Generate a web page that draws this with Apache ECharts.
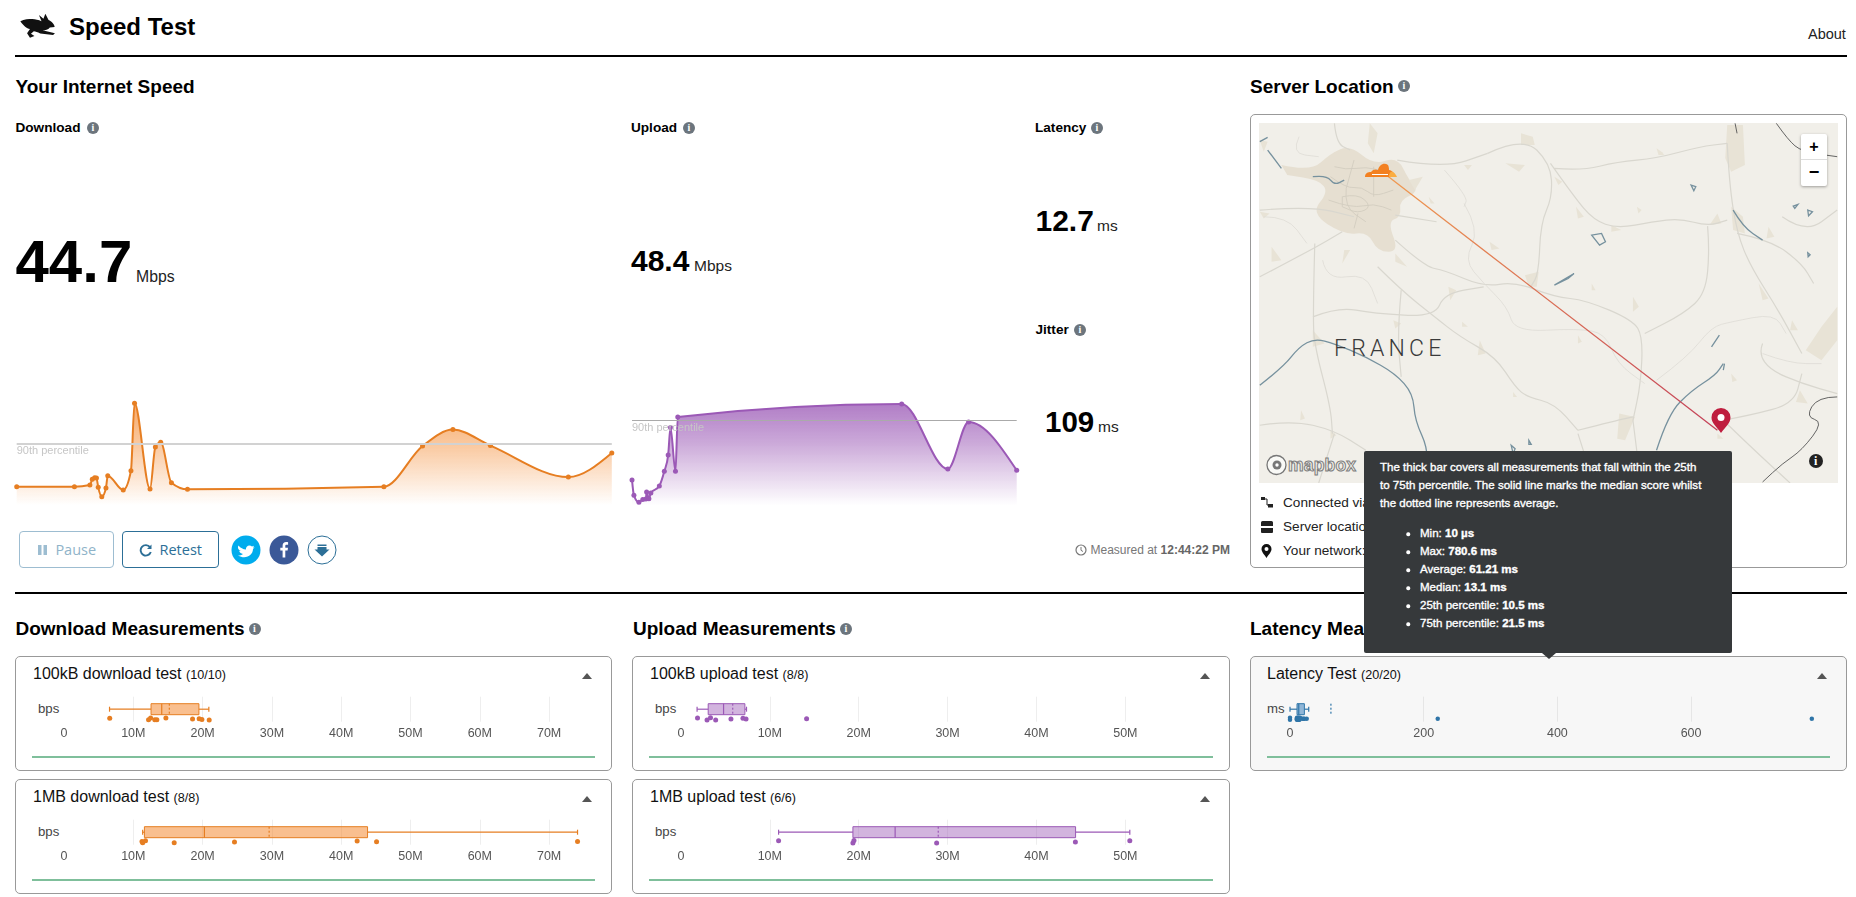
<!DOCTYPE html>
<html><head><meta charset="utf-8"><title>Speed Test</title>
<script src="https://cdn.jsdelivr.net/npm/echarts@6/dist/echarts.min.js"></script>
<style>
html,body{margin:0;padding:0;width:1856px;height:897px;overflow:hidden;background:#fff;font-family:"Liberation Sans",Arial,sans-serif;color:#000}
.t{position:absolute;white-space:nowrap;line-height:1;transform:translateY(-50%)}
.h{font-size:19px;font-weight:700}
.s{font-size:13.6px;font-weight:700}
.rule{position:absolute;left:15px;width:1832px;height:2px;background:#000}
.i{position:absolute;width:12px;height:12px;border-radius:50%;background:#6c757d;color:#fff;font:700 10px/12px "Liberation Serif",serif;text-align:center;transform:translate(-50%,-50%)}
.panel{position:absolute;box-sizing:border-box;border:1px solid #999;border-radius:5px;background:#fff}
.green{position:absolute;height:2px;background:#7fbf9b}
.caret{position:absolute;width:0;height:0;border-left:5px solid transparent;border-right:5px solid transparent;border-bottom:6px solid #555;transform:translate(-50%,-50%)}
.ttl{font-size:16px;color:#111}.ttl small{font-size:12.6px}
.u{font-size:13.2px;color:#444}
.btn{position:absolute;box-sizing:border-box;top:531px;height:37px;border-radius:4px;border:1px solid;font:14.5px/35px "Open Sans",sans-serif;text-align:center}
.cir{position:absolute;top:550px;width:29px;height:29px;border-radius:50%;transform:translate(-50%,-50%)}
.m{font-size:13.6px;color:#222}
#chart{position:absolute;left:0;top:0;width:1856px;height:897px}
#tip{position:absolute;left:1364px;top:451px;width:368px;height:202px;background:#36393b;border-radius:2px;color:#fff;z-index:5}
#tip:after{content:"";position:absolute;left:178px;top:202px;border-left:7px solid transparent;border-right:7px solid transparent;border-top:6px solid #36393b}
#tip div{position:absolute;white-space:nowrap;font-size:11.55px;line-height:1;transform:translateY(-50%);-webkit-text-stroke:.35px #fff}
#tip i{position:absolute;width:3.5px;height:3.5px;border-radius:50%;background:#fff;transform:translate(-50%,-50%)}
</style></head><body>

<svg style="position:absolute;left:19px;top:12.500px" width="37" height="25" viewBox="55 36 113 78"><path d="M58 62C70 55 85 55 95 55 105 55 115 58 124 62L116 42 130 54 136 38 146 58C155 62 165 72 165 80L150 81C145 88 135 90 127 90L166 99 160 105 120 100C112 96 105 93 100 93L91 101 102 108 88 113 79 99 88 86C78 85 66 74 58 62Z" fill="#111"/></svg>
<div class="t" style="left:69px;top:27px;font-size:24px;font-weight:700">Speed Test</div>
<div class="t" style="left:1808px;top:34px;font-size:14.5px;color:#222">About</div>
<div class="rule" style="top:55px"></div>

<div class="t h" style="left:15.500px;top:86px">Your Internet Speed</div>
<div class="t s" style="left:15.500px;top:128px">Download</div><span class="i" style="left:93px;top:128px">i</span>
<div class="t" style="left:15.500px;top:262px;font-size:60px;font-weight:700">44.7</div>
<div class="t" style="left:136px;top:276.500px;font-size:15.800px;color:#222">Mbps</div>
<div class="t s" style="left:631px;top:128px">Upload</div><span class="i" style="left:689px;top:128px">i</span>
<div class="t" style="left:631px;top:260.500px;font-size:30px;font-weight:700">48.4</div>
<div class="t" style="left:694px;top:265.500px;font-size:15.500px;color:#222">Mbps</div>
<div class="t s" style="left:1035px;top:128px">Latency</div><span class="i" style="left:1097px;top:128px">i</span>
<div class="t" style="left:1035.500px;top:220.500px;font-size:30px;font-weight:700">12.7</div>
<div class="t" style="left:1097px;top:226px;font-size:15.500px;color:#222">ms</div>
<div class="t s" style="left:1035.500px;top:330px">Jitter</div><span class="i" style="left:1080px;top:329.500px">i</span>
<div class="t" style="left:1045px;top:421.500px;font-size:29.500px;font-weight:700">109</div>
<div class="t" style="left:1098px;top:427px;font-size:15.500px;color:#222">ms</div>

<div class="btn" style="left:19px;width:95px;color:#8fb3c9;border-color:#9dbdd1">
<svg width="11" height="12" viewBox="0 0 11 12" style="vertical-align:-1px"><path d="M1 1h3.500v10H1zM6.500 1H10v10H6.500z" fill="#9dbdd1"/></svg>&nbsp; Pause</div>
<div class="btn" style="left:122px;width:97px;color:#2c6f97;border-color:#2c6f97">
<svg width="13" height="13" viewBox="0 0 13 13" style="vertical-align:-2px"><path d="M11 3.200A5.200 5.200 0 1 0 11.800 8" fill="none" stroke="#2c6f97" stroke-width="1.900"/><path d="M12.500 .5V5H8z" fill="#2c6f97"/></svg>&nbsp; Retest</div>
<div class="cir" style="left:245.700px;background:#00aced"><svg width="29" height="29" viewBox="0 0 29 29"><path d="M7 10c2 2.500 4.500 3.800 7.500 4-.6-3.500 3.500-5.500 6-3l2-.7-1 2 1.700-.5-1.700 1.700c0 6-7 11-15 6.500 2 0 3.500-.5 5-1.600-2 0-3.200-1-3.800-2.800h1.800c-2-.6-3-2-3.100-3.800l1.800.5C6.500 13 6 11.500 7 10z" fill="#fff"/></svg></div>
<div class="cir" style="left:284px;background:#3b5998"><svg width="29" height="29" viewBox="0 0 29 29"><path d="M15.800 22v-7h2.300l.4-2.800h-2.700v-1.700c0-.8.300-1.300 1.400-1.300h1.400V6.700c-.3 0-1.100-.1-2-.1-2.100 0-3.500 1.300-3.500 3.600v2H10.800V15h2.300v7z" fill="#fff"/></svg></div>
<div class="cir" style="left:322px;background:#fff;box-sizing:border-box;border:1px solid #2c6f97"><svg width="27" height="27" viewBox="0 0 27 27"><path d="M9 8h9v1.500H9zM9 10.500h9V13h3l-7.500 7L6 13h3z" fill="#2c6f97"/></svg></div>
<svg style="position:absolute;left:1075px;top:543.500px" width="12" height="12" viewBox="0 0 12 12"><circle cx="6" cy="6" r="5" fill="none" stroke="#777" stroke-width="1.200"/><path d="M6 3v3.300l2 1.200" fill="none" stroke="#777"/></svg>
<div class="t" style="left:1090.500px;top:549.500px;font-size:12px;color:#777">Measured at <b style="color:#666">12:44:22 PM</b></div>

<div class="t h" style="left:1250px;top:86px">Server Location</div><span class="i" style="left:1404px;top:86px">i</span>
<div class="panel" style="left:1250px;top:114px;width:597px;height:454px"></div>
<svg id="map" style="position:absolute;left:1259px;top:123px" width="579" height="360" viewBox="48 69 1474 1079" preserveAspectRatio="none">
<style>.r{fill:none;stroke:#d9d7cf;stroke-width:1.200;vector-effect:non-scaling-stroke;stroke-linejoin:round}.b{fill:none;stroke:#dedcd5;stroke-width:.8;vector-effect:non-scaling-stroke}.w{fill:none;stroke:#76919e;stroke-width:1.300;vector-effect:non-scaling-stroke}.k{fill:none;stroke:#555;stroke-width:.9;vector-effect:non-scaling-stroke}.p{fill:#e8e3d6}.pc{fill:#e6dfd1}.n{fill:none;stroke:#d3cdbf;stroke-width:.9;vector-effect:non-scaling-stroke}</style>
<rect x="48" y="69" width="1474" height="1079" fill="#f1efe9"/>
<path class="pc sm" d="M105 195L180 215 230 160 280 135 340 195 400 170 430 240 455 275 405 300 410 350 375 365 405 455 350 455 325 395 265 405 180 340 225 275 200 240 120 225Z"/>
<path class="p" d="M330 70l20 30-10 60-15-30zM715 100l30 10 5 25-35 0zM1240 75l40 0 5 120-35 20-15-40zM1250 320l30 30 5 50-30-10zM1060 145l18 15-10 5zM675 190l50 5-15 20zM800 230l20 15-10 10zM855 320l20 30-15 5zM945 375l25 15-25 5zM725 525l35-10-5 45-20 0zM530 560l20 10-15 30zM610 720l15 40-20 5zM1000 590l15 30-15 15zM1320 550l25 45-15 5zM1425 870l20 40-30-5zM965 940l40 10-25 70-20-5zM1345 380l15 30-20 5zM80 440l25 40-25 5zM635 425l25 20-20 5zM395 460l30 40-30-15zM185 690l30 40-30 10zM390 660l20 10-15 15zM1215 340l10 30-30 5zM1440 750l40-70 40-60 0 100-40 60zM50 120l20 5-10 30zM50 335l25 5-15 15zM265 450l15 0-20 40zM430 240l35-10-20 40zM480 290l15 20-10 0zM1060 145l20 20-15 0zM1010 320l12 10-8 10zM570 195l20 0-10 15zM695 875l10 15-10 0zM860 705l10 20-10 5zM155 930l10 25-12 5zM230 990l15 15-15 10zM1215 1000l15 15-15 0zM1250 820l15 20-12 5zM1405 660l15 30-20 0zM565 665l15 15-15 0zM895 550l10 20-10 0z"/>
<path class="n sm" d="M230 230L270 265 310 260 340 290 390 270M270 265L265 320 320 365M225 300L285 325 340 310 385 330M340 200L340 290M290 180L270 265M300 340L290 385M240 200L270 210 320 200 370 215M260 290L300 280 335 320 300 340 260 320Z"/>
<path class="r sm" d="M50 330L180 318 290 350M395 345L500 365M395 420L470 500 520 510 620 560 700 545 800 590 880 600 1000 660 1025 710 1020 850 1000 960"/>
<path class="r sm" d="M800 205L870 212 960 185 1060 175 1170 140 1240 130M630 160L720 110 790 190 795 290 765 370 760 520 740 560M790 190L850 290 900 360 960 385 1050 365 1120 355 1190 378 1240 360"/>
<path class="r sm" d="M1190 378L1195 450 1185 580 1130 640 1030 700M1240 130L1245 250 1265 400 1300 500 1370 630 1430 760M1265 400L1350 420 1430 490 1460 550M50 530L180 450 260 395"/>
<path class="r sm" d="M190 430L185 650 190 740 230 920 235 1000M350 500L410 570 495 650 560 710 650 770 700 860 730 890 800 910 860 990M185 650L250 620 340 640 495 650 520 580 620 560"/>
<path class="r sm" d="M410 570L400 700 410 830M50 975L130 960 240 990 320 1050M1230 960L1300 945 1410 910 1430 820M860 990L960 960 1000 950M400 180L520 205 630 160M240 70L245 130 280 150"/>
<path class="r sm" d="M1330 730L1320 760 1350 810 1430 850 1520 880M1380 350L1440 400 1520 330M900 1148L860 1000M1000 960L1020 1148M1230 960L1300 1040 1400 1148M200 1148L240 1000"/>
<path class="b sm" d="M570 310L610 390 570 480 620 550 680 620 700 695 860 685 930 700 960 790 1030 850M1060 840L1140 770 1200 680 1250 665 1360 640 1390 700M210 480L220 540 320 520 350 610M520 210L580 290 570 320M150 110L130 160 200 170M60 350L120 350 170 430M1330 760L1400 790 1480 790"/>
<path class="w sm" d="M50 855L110 800 150 740 190 715 240 730 320 770 395 820 440 880 445 960 480 1050 470 1148M1060 1050L1090 940 1150 870 1210 825 1230 790M185 230L220 225 240 255 265 240M70 150L105 205M50 125L70 112M1255 330L1280 380 1330 420"/>
<path class="w" d="M895 405l25-5 10 25-15 10zM800 555l50-35-15 15zM1148 255l12 5-5 12zM1408 318l12-5-8 12zM1445 330l12 5-10 12zM1445 458l6 6-5 6zM690 1035l10 10-5 15zM735 1020l6 12-6 0zM1200 740l20-35M1230 810l3-20"/>
<path class="k sm" d="M1365 70L1395 120 1430 155 1520 170M1260 70L1265 100M1520 890L1470 890 1440 950 1485 965 1430 1050 1380 1090 1330 1145"/>
<line x1="372" y1="225" x2="1215" y2="990" stroke="url(#lg)" stroke-width="1.300" vector-effect="non-scaling-stroke"/>
<defs><linearGradient id="lg" gradientUnits="userSpaceOnUse" x1="372" y1="225" x2="1215" y2="990"><stop offset="0" stop-color="#f09a50"/><stop offset="1" stop-color="#c34058"/></linearGradient></defs>
</svg>
<div class="t" style="left:1334px;top:348px;font:300 23px/1 Roboto,sans-serif;letter-spacing:4.200px;color:#3a3a3a">FRANCE</div>
<svg style="position:absolute;left:1365px;top:162px" width="32" height="16" viewBox="0 0 32 16"><path d="M0 15C0 11 3 10 6 10 8 7 11 7 13 8 14 3 19 0 23 3 24 5 24 7 24 8 27 8 30 12 31 15Z" fill="#f38020"/><path d="M24 15C24 12 25 9 28 10 30 11 31 13 32 15Z" fill="#fbad41"/><path d="M7 12.500H23" stroke="#fff" stroke-width="1"/></svg>
<svg style="position:absolute;left:1711px;top:408px" width="20" height="25" viewBox="0 0 20 25"><path d="M10 25C5 18 .5 15 .5 9.500A9.500 9.500 0 0 1 19.500 9.500C19.500 15 15 18 10 25Z" fill="#bf1e3f"/><circle cx="10" cy="9.500" r="3.500" fill="#fff"/></svg>
<div style="position:absolute;left:1801px;top:134px;width:26px;height:52px;background:#fff;border-radius:2px;box-shadow:0 1px 3px rgba(0,0,0,.35)">
<div style="height:26px;border-bottom:1px solid #ddd;box-sizing:border-box;font:700 16px/25px 'Liberation Sans';text-align:center">+</div><div style="height:26px;font:700 18px/24px 'Liberation Sans';text-align:center">−</div></div>
<svg style="position:absolute;left:1266px;top:454px" width="21" height="22" viewBox="0 0 21 22"><circle cx="10.500" cy="11" r="9.500" fill="#fff" fill-opacity=".6" stroke="#777" stroke-width="1.300"/><circle cx="11" cy="11" r="4.500" fill="#777"/><circle cx="11" cy="11" r="1.700" fill="#fff"/></svg>
<div class="t" style="left:1288px;top:466px;font-size:17.500px;font-weight:700;color:#f1efe9;-webkit-text-stroke:1px #7d7d7d;letter-spacing:.2px">mapbox</div>
<span class="i" style="left:1815.600px;top:461px;width:14px;height:14px;background:#222;font-size:12px;line-height:14px">i</span>

<svg style="position:absolute;left:1260px;top:496px" width="14" height="14" viewBox="0 0 14 14"><path d="M1 1h4v3H1zM8 8h5v3.500H8z" fill="#222"/><path d="M4 3h3v6h2" fill="none" stroke="#222"/></svg>
<div class="t m" style="left:1283px;top:503px">Connected via</div>
<svg style="position:absolute;left:1260px;top:520px" width="14" height="14" viewBox="0 0 14 14"><path d="M1 2.500a1.500 1.500 0 0 1 1.500-1.500h9A1.500 1.500 0 0 1 13 2.500V6H1zM1 8h12v4a1 1 0 0 1-1 1H2a1 1 0 0 1-1-1z" fill="#222"/></svg>
<div class="t m" style="left:1283px;top:527px">Server location</div>
<svg style="position:absolute;left:1261px;top:544px" width="11" height="14" viewBox="0 0 11 14"><path d="M5.500 14C3 10 .5 8 .5 5a5 5 0 0 1 10 0c0 3-2.500 5-5 9z" fill="#111"/><circle cx="5.500" cy="5" r="2" fill="#fff"/></svg>
<div class="t m" style="left:1283px;top:551px">Your network:</div>

<div class="rule" style="top:592px"></div>
<div class="t h" style="left:15.500px;top:628px">Download Measurements</div><span class="i" style="left:254.500px;top:629px">i</span>
<div class="t h" style="left:633px;top:628px">Upload Measurements</div><span class="i" style="left:846px;top:629px">i</span>
<div class="t h" style="left:1250px;top:628px">Latency Measurements</div>

<div class="panel" style="left:15px;top:656px;width:597px;height:115px"></div>
<div class="panel" style="left:15px;top:779px;width:597px;height:115px"></div>
<div class="panel" style="left:632px;top:656px;width:598px;height:115px"></div>
<div class="panel" style="left:632px;top:779px;width:598px;height:115px"></div>
<div class="panel" style="left:1250px;top:656px;width:597px;height:115px;background:#f7f7f7"></div>

<div class="t ttl" style="left:33px;top:674px">100kB download test <small>(10/10)</small></div>
<div class="t ttl" style="left:33px;top:797px">1MB download test <small>(8/8)</small></div>
<div class="t ttl" style="left:650px;top:674px">100kB upload test <small>(8/8)</small></div>
<div class="t ttl" style="left:650px;top:797px">1MB upload test <small>(6/6)</small></div>
<div class="t ttl" style="left:1267px;top:674px">Latency Test <small>(20/20)</small></div>
<span class="caret" style="left:586.800px;top:676px"></span><span class="caret" style="left:586.800px;top:799px"></span>
<span class="caret" style="left:1205.200px;top:676px"></span><span class="caret" style="left:1205.200px;top:799px"></span>
<span class="caret" style="left:1821.500px;top:676px"></span>
<div class="t u" style="left:38px;top:709px">bps</div><div class="t u" style="left:38px;top:832px">bps</div>
<div class="t u" style="left:655px;top:709px">bps</div><div class="t u" style="left:655px;top:832px">bps</div>
<div class="t u" style="left:1267px;top:709px">ms</div>
<div class="green" style="left:32px;top:756px;width:563px"></div><div class="green" style="left:32px;top:879px;width:563px"></div>
<div class="green" style="left:649px;top:756px;width:564px"></div><div class="green" style="left:649px;top:879px;width:564px"></div>
<div class="green" style="left:1267px;top:756px;width:563px"></div>

<div id="chart"></div>

<div id="tip">
<div style="left:16px;top:17px">The thick bar covers all measurements that fall within the 25th</div>
<div style="left:16px;top:35px">to 75th percentile. The solid line marks the median score whilst</div>
<div style="left:16px;top:53px">the dotted line represents average.</div>
<i style="left:44px;top:83px"></i><div style="left:56px;top:83px">Min: <b>10 µs</b></div>
<i style="left:44px;top:101px"></i><div style="left:56px;top:101px">Max: <b>780.6 ms</b></div>
<i style="left:44px;top:119px"></i><div style="left:56px;top:119px">Average: <b>61.21 ms</b></div>
<i style="left:44px;top:137px"></i><div style="left:56px;top:137px">Median: <b>13.1 ms</b></div>
<i style="left:44px;top:155px"></i><div style="left:56px;top:155px">25th percentile: <b>10.5 ms</b></div>
<i style="left:44px;top:173px"></i><div style="left:56px;top:173px">75th percentile: <b>21.5 ms</b></div>
</div>

<script>
// Sparklines: x = share of the test's duration (%), y = Mbps
const downloadTime=[0,9.7,12.3,12.7,13.1,13.4,13.7,14.3,15,15.3,17.9,19.2,19.8,22.4,23.3,24.2,26,28.7,61.7,68.2,73.3,79.6,92.7,100];
const downloadMbps=[13.5,13.5,14.7,18.9,20,19.8,13,6.2,12.6,21.5,11.1,25.1,74,11.8,42.3,45.7,16.4,11.6,13.5,43,54.9,43.3,20.5,38];
const uploadTime=[0,0.5,1.8,2.8,3.6,3.8,4.4,4.9,7.1,8.4,9.4,10,11.3,11.9,70.1,82.1,87.5,100];
const uploadMbps=[14.5,5.7,1.7,3.3,3.6,7.6,3.8,7,11,19.4,28.7,44.4,19.4,50.5,57.9,20.7,47.6,20];
const download90th=44.7, upload90th=48.4;

// Box summaries: min, Q1, median, mean, Q3, upper whisker
const box100kBDown=[6.57,12.56,14.1,15.2,19.47,20.9];
const box1MBDown=[11.35,11.6,20.26,29.6,43.8,74.1];
const box100kBUp=[1.82,3.07,4.8,5.83,7.2,7.38];
const box1MBUp=[10.99,19.35,24.1,28.95,44.4,50.5];
const boxLatency=[0.01,10.5,13.1,61.21,21.5,28];

// Individual measurements and their vertical scatter offset
const pts100kBDown=[6.6,12.2,12.5,13.1,13.4,14.7,18.55,19.5,19.9,20.95];
const off100kBDown=[3.4,2,3.7,2,2,3.7,2.7,3,2.3,1.7];
const pts1MBDown=[11.25,11.35,11.76,15.9,24.6,42.3,45.1,74.1];
const off1MBDown=[3.3,2,4,2,2.7,3.7,3,3.3];
const pts100kBUp=[1.87,2.94,3.33,3.91,5.63,6.98,7.33,14.14];
const off100kBUp=[3.7,1.7,4,1.7,2.7,3.4,2.7,3];
const pts1MBUp=[10.99,19.35,19.47,28.77,44.38,50.5];
const off1MBUp=[4,1.7,4.3,1.7,2.7,4];
const ptsLatency=[0.01,0.01,10,10.3,10.5,11,11.5,12,12.5,13,13.1,13.2,14,15,18,20,21.5,25,221,780.6];
const offLatency=[2,4,3,2,4,3,2,4,3,2,4,3,2,4,3,3,3,3,3,3];

// Rounds the corners of the decorative map's road lines
document.querySelectorAll('#map .sm').forEach(el=>{
  const out=el.getAttribute('d').split('M').filter(Boolean).map(sub=>{
    const closed=/Z/.test(sub), nums=sub.match(/-?[\d.]+/g).map(Number), p=[];
    for(let k=0;k<nums.length;k+=2)p.push([nums[k],nums[k+1]]);
    const mid=(a,b)=>[(a[0]+b[0])/2,(a[1]+b[1])/2];
    let d='M'+p[0];
    for(let k=1;k<p.length-1;k++){const m=mid(p[k],p[k+1]);d+=`Q${p[k]} ${m}`;}
    d+='L'+p[p.length-1];
    return d+(closed?'Z':'');
  });
  el.setAttribute('d',out.join(''));
});

const ORANGE='#e67e22', PURPLE='#9b59b6', BLUE='#2f75a8';
const chart=echarts.init(document.getElementById('chart'),null,{renderer:'canvas'});
const grid=[],xAxis=[],yAxis=[],series=[];

// Monotone cubic through the pixel positions that the axes give for the data
function monotonePath(p){
  const n=p.length, sgn=v=>v<0?-1:1, t=new Array(n).fill(0);
  for(let i=1;i<n-1;i++){
    const h0=p[i][0]-p[i-1][0]||1e-6,h1=p[i+1][0]-p[i][0]||1e-6,s0=(p[i][1]-p[i-1][1])/h0,s1=(p[i+1][1]-p[i][1])/h1,q=(s0*h1+s1*h0)/(h0+h1);
    t[i]=(sgn(s0)+sgn(s1))*Math.min(Math.abs(s0),Math.abs(s1),.5*Math.abs(q))||0;
  }
  const e=(a,b,tb)=>{const h=b[0]-a[0]||1e-6;return (3*(b[1]-a[1])/h-tb)/2;};
  t[0]=e(p[0],p[1],t[1]); t[n-1]=e(p[n-2],p[n-1],t[n-2]);
  let d='';
  for(let i=0;i<n-1;i++){
    const dx=(p[i+1][0]-p[i][0])/3;
    d+=`C${p[i][0]+dx} ${p[i][1]+dx*t[i]} ${p[i+1][0]-dx} ${p[i+1][1]-dx*t[i+1]} ${p[i+1][0]} ${p[i+1][1]}`;
  }
  return d;
}

function spark(x,y,color,rgb,p90,l,w,maxV,h,topA,midAt,midA,lineC,lineW){
  const i=grid.length;
  grid.push({left:l,width:w,top:505.3-h,height:h});
  xAxis.push({gridIndex:i,type:'value',min:0,max:100,show:false});
  yAxis.push({gridIndex:i,type:'value',min:0,max:maxV,show:false});
  const gradient={type:'linear',x:0,y:0,x2:0,y2:1,colorStops:[{offset:0,color:`rgba(${rgb},${topA})`},{offset:midAt,color:`rgba(${rgb},${midA})`},{offset:1,color:`rgba(${rgb},0)`}]};
  series.push({type:'custom',xAxisIndex:i,yAxisIndex:i,clip:false,silent:true,z:2,data:[[x[0],y[0]]],
    renderItem(p,api){
      const pts=x.map((t,k)=>api.coord([t,y[k]]));
      const base=api.coord([0,0])[1], d=monotonePath(pts), start=`M${pts[0][0]} ${pts[0][1]}`;
      const last=pts[pts.length-1];
      return {type:'group',children:[
        {type:'path',shape:{pathData:`${start}${d}L${last[0]} ${base}L${pts[0][0]} ${base}Z`},style:{fill:gradient,stroke:null}},
        {type:'path',shape:{pathData:start+d},style:{fill:null,stroke:color,lineWidth:2}}
      ]};
    }});
  series.push({type:'line',xAxisIndex:i,yAxisIndex:i,z:3,data:x.map((t,k)=>[t,y[k]]),
    symbol:'circle',symbolSize:5,showSymbol:true,clip:false,color:color,lineStyle:{opacity:0},itemStyle:{color:color},
    markLine:{silent:true,symbol:'none',precision:1,animation:false,lineStyle:{color:lineC,width:lineW,type:'solid'},
      label:{position:'insideStartBottom',formatter:'90th percentile',color:'#c6c6c6',fontSize:11,fontFamily:'Liberation Sans',distance:[0,2]},
      data:[{yAxis:p90}]}});
}
spark(downloadTime,downloadMbps,ORANGE,'243,128,32',download90th,16.7,595.1,80,110.32,.68,.45,.4,'#d2d2d2',2);
spark(uploadTime,uploadMbps,PURPLE,'155,89,182',upload90th,632,384.7,60,105,.78,.38,.52,'#aaa',1);

function boxRow(box,pts,off,l,w,top,max,step,fmt,color,fill,dot,gridC){
  const i=grid.length;
  grid.push({left:l,width:w,top:top,height:25});
  xAxis.push({gridIndex:i,type:'value',min:0,max:max,interval:step,axisLine:{show:false},axisTick:{show:false},
    axisLabel:{color:'#555',fontSize:12.5,fontFamily:'Liberation Sans',margin:5,showMaxLabel:false,formatter:fmt},
    splitLine:{show:true,showMinLine:false,showMaxLine:false,lineStyle:{color:gridC,width:1}}});
  yAxis.push({gridIndex:i,type:'value',min:0,max:25,show:false});
  series.push({type:'custom',xAxisIndex:i,yAxisIndex:i,clip:false,silent:true,z:3,encode:{x:[0,1,2,3,4,5]},data:[box],
    renderItem(p,api){
      const P=(k,y)=>api.coord([api.value(k),y]);
      const c=12.5,a=P(0,c),q1=P(1,c),m=P(2,c),me=P(3,c),q3=P(4,c),b=P(5,c);
      const hh=api.size([0,5.5])[1], cap=api.size([0,2.5])[1];
      const ln=(x1,y1,x2,y2,extra)=>({type:'line',shape:{x1,y1,x2,y2},style:Object.assign({stroke:color,lineWidth:1.2},extra||{})});
      return {type:'group',children:[
        ln(a[0],a[1],q1[0],a[1]),ln(q3[0],a[1],b[0],a[1]),
        ln(a[0],a[1]-cap,a[0],a[1]+cap),ln(b[0],a[1]-cap,b[0],a[1]+cap),
        {type:'rect',shape:{x:q1[0],y:a[1]-hh,width:q3[0]-q1[0],height:2*hh},style:{fill:fill,stroke:color,lineWidth:1}},
        ln(m[0],a[1]-hh,m[0],a[1]+hh),
        ln(me[0],a[1]-hh,me[0],a[1]+hh,{lineDash:[2,2]})
      ]};
    }});
  series.push({type:'scatter',xAxisIndex:i,yAxisIndex:i,clip:false,silent:true,z:4,symbolSize:dot,itemStyle:{color:color,opacity:1},data:pts.map((v,k)=>[v,off[k]])});
}
const fmtM=v=>v===0?'0':v+'M', fmtMs=v=>String(v);
boxRow(box100kBDown,pts100kBDown,off100kBDown,64,531,696.7,76.62,10,fmtM,ORANGE,'rgba(243,128,32,.5)',5,'#eee');
boxRow(box1MBDown,pts1MBDown,off1MBDown,64,531,819.7,76.62,10,fmtM,ORANGE,'rgba(243,128,32,.5)',5,'#eee');
boxRow(box100kBUp,pts100kBUp,off100kBUp,680.9,532.2,696.7,59.87,10,fmtM,PURPLE,'rgba(155,89,182,.45)',5,'#eee');
boxRow(box1MBUp,pts1MBUp,off1MBUp,680.9,532.2,819.7,59.87,10,fmtM,PURPLE,'rgba(155,89,182,.45)',5,'#eee');
boxRow(boxLatency,ptsLatency,offLatency,1290,528.1,696.7,790,200,fmtMs,BLUE,'rgba(60,130,190,.55)',4.5,'#e6e6e6');

chart.setOption({animation:false,backgroundColor:'transparent',grid,xAxis,yAxis,series});
</script>
</body></html>
